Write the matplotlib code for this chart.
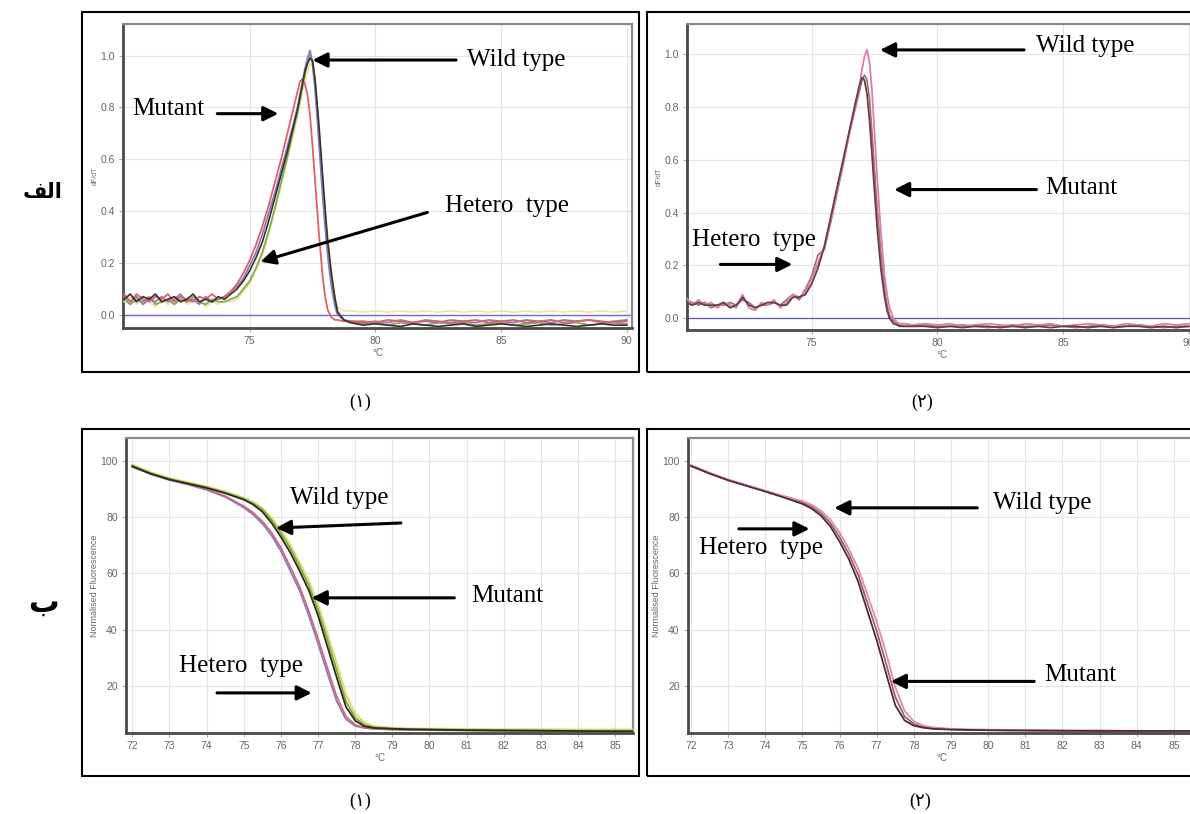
import matplotlib
matplotlib.use('Agg')
import matplotlib.pyplot as plt
from matplotlib.patches import Rectangle

# ---- data ----
# top row: derivative melt curves (dF/dT)
x_top = [70.0, 70.25, 70.5, 70.75, 71.0, 71.25, 71.5, 71.75, 72.0, 72.25, 72.5, 72.75,
         73.0, 73.25, 73.5, 73.75, 74.0, 74.25, 74.5, 74.75, 75.0, 75.25, 75.5, 75.75,
         76.0, 76.25, 76.5, 76.75, 76.9, 77.0, 77.1, 77.2, 77.3, 77.4, 77.5, 77.6,
         77.75, 77.9, 78.0, 78.1, 78.25, 78.4, 78.5, 78.75, 79.0, 79.5, 80.0, 80.5,
         81.0, 81.5, 82.0, 82.5, 83.0, 83.5, 84.0, 84.5, 85.0, 85.5, 86.0, 86.5,
         87.0, 87.5, 88.0, 88.5, 89.0, 89.5, 90.0]

tl_yellow = [0.05, 0.07, 0.04, 0.06, 0.05, 0.03, 0.06, 0.04, 0.05, 0.07, 0.04, 0.05, 0.06, 0.03, 0.05, 0.04, 0.06, 0.05,
             0.06, 0.09, 0.12, 0.17, 0.23, 0.31, 0.40, 0.50, 0.60, 0.70,
             0.76, 0.81, 0.86, 0.90, 0.94, 0.97, 0.96, 0.89, 0.72, 0.53, 0.41, 0.30, 0.17, 0.07, 0.03, 0.015, 0.015,
             0.01, 0.015, 0.01, 0.015, 0.01, 0.015, 0.01, 0.015, 0.01, 0.015, 0.01, 0.015, 0.01, 0.015, 0.01, 0.015,
             0.01, 0.015, 0.01, 0.015, 0.01, 0.015]
tl_green = [0.06, 0.04, 0.06, 0.05, 0.07, 0.04, 0.05, 0.06, 0.04, 0.06, 0.05, 0.07, 0.05, 0.04, 0.06, 0.05, 0.05, 0.06,
            0.07, 0.10, 0.13, 0.18, 0.24, 0.32, 0.41, 0.51, 0.61, 0.72,
            0.78, 0.83, 0.88, 0.93, 0.97, 1.00, 0.98, 0.90, 0.71, 0.51, 0.38, 0.27, 0.14, 0.05, 0.01, -0.02, -0.03,
            -0.035, -0.03, -0.04, -0.03, -0.035, -0.04, -0.03, -0.035, -0.03, -0.04, -0.035, -0.03, -0.04, -0.035,
            -0.03, -0.04, -0.035, -0.03, -0.04, -0.035, -0.03, -0.035]
tl_purple = [0.08, 0.05, 0.07, 0.04, 0.06, 0.05, 0.07, 0.05, 0.06, 0.08, 0.05, 0.06, 0.04, 0.07, 0.05, 0.06, 0.07, 0.09,
             0.11, 0.14, 0.19, 0.24, 0.31, 0.39, 0.47, 0.56, 0.65, 0.74,
             0.80, 0.85, 0.90, 0.95, 0.99, 1.02, 0.97, 0.87, 0.67, 0.46, 0.34, 0.23, 0.11, 0.03, 0.0, -0.02, -0.025,
             -0.03, -0.025, -0.03, -0.02, -0.03, -0.025, -0.03, -0.02, -0.025, -0.03, -0.02, -0.025, -0.03, -0.02,
             -0.025, -0.03, -0.02, -0.025, -0.02, -0.03, -0.025, -0.02]
tl_red = [0.07, 0.05, 0.08, 0.06, 0.05, 0.07, 0.06, 0.08, 0.05, 0.07, 0.06, 0.05, 0.07, 0.06, 0.08, 0.06, 0.07, 0.09,
          0.12, 0.16, 0.21, 0.27, 0.34, 0.42, 0.51, 0.60, 0.70, 0.80,
          0.86, 0.90, 0.91, 0.89, 0.85, 0.77, 0.65, 0.52, 0.32, 0.15, 0.07, 0.02, -0.01, -0.02, -0.02, -0.025, -0.025,
          -0.025, -0.03, -0.02, -0.025, -0.03, -0.02, -0.025, -0.03, -0.025, -0.02, -0.03, -0.025, -0.02, -0.03,
          -0.025, -0.02, -0.03, -0.025, -0.02, -0.025, -0.03, -0.025]
tl_dark = [0.06, 0.08, 0.05, 0.07, 0.06, 0.08, 0.05, 0.06, 0.07, 0.05, 0.06, 0.08, 0.05, 0.06, 0.05, 0.07, 0.06, 0.08,
           0.10, 0.13, 0.17, 0.22, 0.28, 0.36, 0.45, 0.54, 0.63, 0.73,
           0.79, 0.84, 0.89, 0.94, 0.97, 0.99, 0.98, 0.91, 0.74, 0.54, 0.41, 0.29, 0.16, 0.06, 0.01, -0.02, -0.03,
           -0.04, -0.035, -0.04, -0.045, -0.035, -0.04, -0.045, -0.04, -0.035, -0.045, -0.04, -0.035, -0.04, -0.045,
           -0.04, -0.035, -0.04, -0.045, -0.04, -0.035, -0.04, -0.04]

tr_mid = [0.07, 0.06, 0.05, 0.06, 0.04, 0.05, 0.05, 0.06, 0.05, 0.07, 0.06, 0.04, 0.05, 0.05, 0.06, 0.05, 0.07, 0.09,
          0.07, 0.11, 0.16, 0.24, 0.26, 0.36, 0.47, 0.58, 0.70, 0.80,
          0.86, 0.90, 0.92, 0.90, 0.83, 0.70, 0.56, 0.42, 0.25, 0.11, 0.05, 0.01, -0.01, -0.02, -0.025, -0.03, -0.03,
          -0.025, -0.03, -0.03, -0.025, -0.03, -0.035, -0.03, -0.025, -0.03, -0.03, -0.025, -0.03, -0.035, -0.03,
          -0.025, -0.03, -0.03, -0.025, -0.03, -0.035, -0.03, -0.03]
tr_pink = [0.08, 0.05, 0.07, 0.05, 0.06, 0.04, 0.06, 0.05, 0.04, 0.09, 0.04, 0.03, 0.06, 0.05, 0.07, 0.04, 0.06, 0.09,
           0.08, 0.10, 0.15, 0.21, 0.27, 0.37, 0.48, 0.59, 0.70, 0.81,
           0.88, 0.94, 0.99, 1.015, 0.97, 0.86, 0.70, 0.54, 0.33, 0.16, 0.09, 0.04, 0.0, -0.015, -0.02, -0.02, -0.025,
           -0.02, -0.025, -0.02, -0.03, -0.025, -0.02, -0.025, -0.03, -0.02, -0.025, -0.02, -0.03, -0.025, -0.02,
           -0.025, -0.03, -0.02, -0.025, -0.03, -0.02, -0.025, -0.02]
tr_brown = [0.06, 0.05, 0.06, 0.05, 0.05, 0.05, 0.06, 0.04, 0.05, 0.08, 0.05, 0.04, 0.05, 0.06, 0.06, 0.05, 0.05, 0.08,
            0.08, 0.09, 0.13, 0.19, 0.27, 0.38, 0.49, 0.60, 0.71, 0.82,
            0.88, 0.91, 0.90, 0.85, 0.75, 0.62, 0.48, 0.35, 0.19, 0.08, 0.03, 0.0, -0.02, -0.025, -0.03, -0.03, -0.03,
            -0.03, -0.035, -0.03, -0.035, -0.03, -0.03, -0.035, -0.03, -0.035, -0.03, -0.035, -0.03, -0.03, -0.035,
            -0.03, -0.035, -0.03, -0.03, -0.035, -0.03, -0.035, -0.03]

# bottom row: normalised fluorescence
x_bot = [72.0, 72.5, 73.0, 73.5, 74.0, 74.5, 75.0, 75.25, 75.5, 75.75, 76.0, 76.25, 76.5, 76.75,
         77.0, 77.25, 77.5, 77.75, 78.0, 78.25, 78.5, 79.0, 79.5, 80.0, 81.0, 82.0, 83.0, 84.0, 85.0, 85.5]

bl_purple = [98.0, 95.4, 93.3, 91.7, 89.8, 87.3, 83.5, 81.0, 77.8, 73.5, 68.0, 61.0, 54.0, 45.0,
             35.0, 24.5, 14.5, 8.0, 5.6, 4.9, 4.6, 4.3, 4.2, 4.1, 4.0, 3.9, 3.9, 3.8, 3.8, 3.7]
bl_pink = [98.1, 95.6, 93.5, 91.9, 90.0, 87.6, 84.0, 81.7, 78.6, 74.5, 69.2, 62.4, 55.4, 46.6,
           36.8, 26.4, 16.2, 9.0, 6.0, 5.0, 4.6, 4.4, 4.3, 4.2, 4.1, 4.0, 3.9, 3.9, 3.8, 3.8]
bl_yellow = [98.8, 96.0, 94.0, 92.5, 91.0, 89.2, 87.0, 85.5, 83.4, 79.8, 75.3, 70.2, 64.0, 57.4,
             49.0, 38.8, 28.0, 17.0, 10.0, 6.8, 5.5, 4.9, 4.7, 4.6, 4.5, 4.4, 4.4, 4.3, 4.3, 4.3]
bl_green = [98.4, 95.8, 93.7, 92.2, 90.7, 88.9, 86.6, 85.0, 82.8, 79.0, 74.3, 69.0, 62.6, 55.8,
            47.0, 36.5, 25.5, 14.5, 8.5, 6.0, 5.1, 4.7, 4.5, 4.4, 4.2, 4.1, 4.0, 3.9, 3.9, 3.9]
bl_dark = [98.2, 95.5, 93.5, 92.0, 90.5, 88.6, 86.3, 84.6, 82.0, 78.0, 73.0, 67.5, 61.0, 54.0,
           45.0, 34.0, 23.0, 12.5, 7.5, 5.5, 4.9, 4.6, 4.4, 4.3, 4.1, 4.0, 3.9, 3.8, 3.7, 3.7]

br_pink = [98.7, 95.9, 93.5, 91.5, 89.5, 87.6, 85.8, 84.5, 82.4, 79.2, 74.6, 68.8, 61.8, 52.5,
           42.8, 31.8, 19.5, 11.0, 7.2, 5.8, 5.1, 4.6, 4.4, 4.3, 4.1, 4.0, 4.0, 3.9, 3.9, 3.9]
br_mid = [98.5, 95.8, 93.4, 91.4, 89.4, 87.4, 85.3, 83.8, 81.5, 78.0, 73.0, 67.0, 59.5, 49.5,
          39.5, 28.0, 16.0, 9.0, 6.3, 5.3, 4.8, 4.4, 4.2, 4.1, 4.0, 3.9, 3.9, 3.8, 3.8, 3.8]
br_dark = [98.3, 95.6, 93.2, 91.2, 89.2, 87.1, 84.8, 83.1, 80.6, 76.8, 71.4, 65.1, 57.1, 46.6,
           36.2, 24.5, 13.0, 7.6, 5.7, 5.0, 4.6, 4.3, 4.2, 4.1, 4.0, 3.9, 3.8, 3.8, 3.8, 3.8]

top_xticks = [75, 80, 85, 90]
top_yticks = [0.0, 0.2, 0.4, 0.6, 0.8, 1.0]
bot_xticks = [72, 73, 74, 75, 76, 77, 78, 79, 80, 81, 82, 83, 84, 85]
bot_yticks = [20, 40, 60, 80, 100]

W, H = 1190, 814
fig = plt.figure(figsize=(W / 100, H / 100), dpi=100)


def px_box(l, t, r, b):
    return [l / W, 1 - b / H, (r - l) / W, (b - t) / H]


def style(ax, xticks, yticks, yfmt, ylabel, ylabsize):
    ax.set_xticks(xticks)
    ax.set_yticks(yticks)
    ax.set_yticklabels([yfmt.format(v) for v in yticks])
    ax.grid(True, color='#e4e4e4', lw=0.8, zorder=0)
    ax.tick_params(length=3, width=0.8, color='#aaaaaa', labelsize=7.5,
                   labelcolor='#666666', pad=3)
    for lab in ax.get_xticklabels() + ax.get_yticklabels():
        lab.set_family('Liberation Sans')
    for side in ['left', 'bottom']:
        ax.spines[side].set_color('#4a4a4a')
        ax.spines[side].set_linewidth(2)
    for side in ['top', 'right']:
        ax.spines[side].set_color('#8a8a8a')
        ax.spines[side].set_linewidth(1.6)
    ax.set_xlabel('°C', fontsize=7, color='#666666', labelpad=1, family='Liberation Sans')
    ax.set_ylabel(ylabel, fontsize=ylabsize, color='#666666', labelpad=1, family='Liberation Sans')


def label(ax, text, tx, ty, tail, tip):
    ax.annotate('', xy=tip, xytext=tail,
                arrowprops=dict(arrowstyle='-|>', color='black', lw=2.2,
                                mutation_scale=22, shrinkA=0, shrinkB=0))
    ax.text(tx, ty, text, fontsize=18, family='Liberation Serif', ha='left', va='center')


# ---- top left ----
ax1 = fig.add_axes(px_box(123, 24, 632, 328))
ax1.axhline(0, color='#6b6bd6', lw=1.0, zorder=2)
ax1.plot(x_top, tl_yellow, color='#ebe68c', lw=1.1, zorder=3)
ax1.plot(x_top, tl_green, color='#7fae55', lw=1.3, zorder=3)
ax1.plot(x_top, tl_purple, color='#8c78c8', lw=1.3, zorder=3)
ax1.plot(x_top, tl_red, color='#e0606a', lw=1.3, zorder=3)
ax1.plot(x_top, tl_dark, color='#3a3226', lw=1.2, zorder=3)
ax1.set_xlim(69.96, 90.21)
ax1.set_ylim(-0.051, 1.122)
style(ax1, top_xticks, top_yticks, '{:.1f}', 'dF/dT', 5)
label(ax1, 'Wild type', 83.64, 0.983, (83.21, 0.983), (77.5, 0.983))
label(ax1, 'Mutant', 70.33, 0.795, (73.71, 0.776), (76.14, 0.776))
label(ax1, 'Hetero  type', 82.79, 0.42, (82.07, 0.395), (75.43, 0.205))

# ---- top right ----
ax2 = fig.add_axes(px_box(687, 24, 1196, 330))
ax2.axhline(0, color='#5a5aa0', lw=0.9, zorder=2)
ax2.plot(x_top, tr_mid, color='#a8707a', lw=1.3, zorder=3)
ax2.plot(x_top, tr_pink, color='#d77fb0', lw=1.3, zorder=3)
ax2.plot(x_top, tr_brown, color='#6b3f3f', lw=1.3, zorder=3)
ax2.set_xlim(70.04, 90.29)
ax2.set_ylim(-0.044, 1.113)
style(ax2, top_xticks, top_yticks, '{:.1f}', 'dF/dT', 5)
label(ax2, 'Wild type', 83.94, 1.031, (83.45, 1.015), (77.72, 1.015))
label(ax2, 'Mutant', 84.29, 0.494, (83.94, 0.487), (78.28, 0.487))
label(ax2, 'Hetero  type', 70.25, 0.298, (71.37, 0.204), (74.23, 0.204))

# ---- bottom left ----
ax3 = fig.add_axes(px_box(126, 438, 633, 733))
ax3.plot(x_bot, bl_purple, color='#8a7cc0', lw=1.3, zorder=3)
ax3.plot(x_bot, bl_pink, color='#d0687c', lw=1.3, zorder=3)
ax3.plot(x_bot, bl_yellow, color='#e0dc64', lw=1.5, zorder=3)
ax3.plot(x_bot, bl_green, color='#7aa64a', lw=1.3, zorder=3)
ax3.plot(x_bot, bl_dark, color='#2e2a1e', lw=1.3, zorder=3)
ax3.set_xlim(71.83, 85.48)
ax3.set_ylim(3.1, 108.3)
style(ax3, bot_xticks, bot_yticks, '{:d}', 'Normalised Fluorescence', 6.5)
label(ax3, 'Wild type', 76.25, 86.9, (79.23, 78.0), (75.87, 76.2))
label(ax3, 'Mutant', 81.13, 51.9, (80.67, 51.3), (76.83, 51.3))
label(ax3, 'Hetero  type', 73.25, 26.9, (74.28, 17.4), (76.83, 17.4))

# ---- bottom right ----
ax4 = fig.add_axes(px_box(688, 438, 1195, 733))
ax4.plot(x_bot, br_mid, color='#a06070', lw=1.3, zorder=3)
ax4.plot(x_bot, br_pink, color='#e08ab8', lw=1.3, zorder=3)
ax4.plot(x_bot, br_dark, color='#4a2e32', lw=1.3, zorder=3)
ax4.set_xlim(71.92, 85.57)
ax4.set_ylim(3.1, 108.3)
style(ax4, bot_xticks, bot_yticks, '{:d}', 'Normalised Fluorescence', 6.5)
label(ax4, 'Wild type', 80.14, 85.1, (79.71, 83.4), (75.86, 83.4))
label(ax4, 'Hetero  type', 72.21, 69.1, (73.29, 75.9), (75.19, 75.9))
label(ax4, 'Mutant', 81.52, 23.9, (81.24, 21.5), (77.38, 21.5))

# ---- outer frames ----
for (l, t, r, b) in [(82, 12, 639, 372), (647, 12, 1210, 372),
                     (82, 429, 639, 776), (647, 429, 1210, 776)]:
    fig.add_artist(Rectangle((l / W, 1 - b / H), (r - l) / W, (b - t) / H,
                             transform=fig.transFigure, fill=False, ec='black', lw=1.5))

# ---- panel captions ----
cap_font = ['Liberation Serif', 'DejaVu Sans']
fig.text(360 / W, 1 - 402 / H, '(\u0661)', fontsize=13, family=cap_font, ha='center', va='center')
fig.text(922 / W, 1 - 402 / H, '(\u0662)', fontsize=13, family=cap_font, ha='center', va='center')
fig.text(360 / W, 1 - 801 / H, '(\u0661)', fontsize=13, family=cap_font, ha='center', va='center')
fig.text(920 / W, 1 - 801 / H, '(\u0662)', fontsize=13, family=cap_font, ha='center', va='center')

# row letters (Arabic, written in presentation forms so they join without a shaper)
fig.text(43 / W, 1 - 192 / H, '\uFED2\uFEDF\uFE8D', fontsize=15, fontweight='bold',
         family='DejaVu Sans', ha='center', va='center')
fig.text(43 / W, 1 - 603 / H, '\u0628', fontsize=22, fontweight='bold',
         family='DejaVu Sans', ha='center', va='center')

fig.savefig('out.png', dpi=100)
